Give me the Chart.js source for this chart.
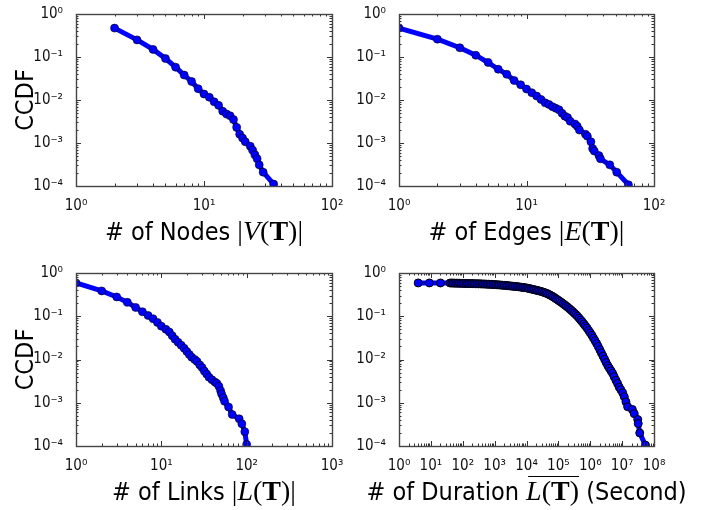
<!DOCTYPE html>
<html><head><meta charset="utf-8">
<script src="https://cdn.jsdelivr.net/npm/chart.js@4/dist/chart.umd.min.js"></script>
<style>
html,body{margin:0;padding:0;background:#fff;}
#wrap{position:relative;width:725px;height:510px;overflow:hidden;background:#fff;}
canvas{position:absolute;left:0;top:0;}
</style></head><body>
<div id="wrap">
<canvas id="c1" width="725" height="510"></canvas>
<canvas id="c2" width="725" height="510"></canvas>
<canvas id="c3" width="725" height="510"></canvas>
<canvas id="c4" width="725" height="510"></canvas>
</div>
<script>
// ---------- data ----------
const nodesX = [2,3,4,5,6,7,8,9,10,11,12,13,14,15,16,17,18,19,20,21,23,24,25,26,27,29,35];
const nodesY = [0.47,0.25,0.15,0.092,0.058,0.038,0.027,0.0183,0.0138,0.0116,0.0091,0.0075,0.0055,0.0047,0.0043,0.0035,0.0023,0.0016,0.0013,0.00107,0.00084,0.00068,0.00053,0.00043,0.00031,0.00021,0.000111];

const edgesX = [1,2,3,4,5,6,7,8,9,10,11,12,13,14,15,16,17,18,19,20,21,22,24,25,26,29,30,32,33,34,37,38,45,51,63];
const edgesY = [0.47,0.26,0.164,0.11,0.0745,0.052,0.0396,0.0284,0.0226,0.018,0.0148,0.0124,0.0103,0.0086,0.0079,0.007,0.0064,0.0059,0.0049,0.0042,0.0039,0.0032,0.00275,0.00244,0.002,0.0016,0.00144,0.00107,0.00074,0.00065,0.00051,0.00043,0.00031,0.00021,0.000107];

const linksX = [1,2,3,4,5,6,7,8,9,10,11.3,12.4,13.4,14.5,15.7,17.1,18.5,19.9,21.3,22.7,24.6,26.2,28.2,30,31.9,34,36.2,39.2,42.5,44.8,47.3,49.5,50.8,53.2,55.1,61.3,67.7,81.7,87.8,95.1,100];
const linksY = [0.59,0.385,0.28,0.21,0.16,0.127,0.104,0.0877,0.072,0.059,0.0498,0.0433,0.0356,0.0293,0.025,0.0213,0.0182,0.0153,0.013,0.0113,0.01,0.009,0.0075,0.0065,0.0054,0.0046,0.0039,0.0034,0.003,0.0028,0.0024,0.0019,0.0016,0.0013,0.00108,0.0008,0.000534,0.000425,0.000326,0.000214,0.000109];

const durX = [4,9,20,40,45,50,56,63,71,79,89,100,112,126,141,158,178,200,224,251,282,316,355,398,447,501,562,631,708,794,891,
  1000,1122,1259,1413,1585,1778,1995,2239,2512,2818,3162,3548,3981,4467,5012,5623,6310,7079,7943,8913,
  10000,11220,12589,14125,15849,17783,19953,22387,25119,28184,31623,35481,39811,44668,50119,56234,63096,70795,79433,89125,
  100000,112202,125893,141254,158489,177828,199526,223872,251189,281838,316228,354813,398107,446684,501187,562341,630957,707946,794328,891251,
  1000000,1122018,1258925,1412538,1584893,1778279,1995262,2238721,2511886,2818383,3162278,3548134,3981072,4466836,5011872,
  5623413,6400000,7200000,8100000,9100000,10400000,11700000,13200000,14900000,20900000,24000000,30900000,32000000,35700000,53700000];
const durY = [0.59,0.59,0.588,0.587,0.586,0.585,0.583,0.582,0.581,0.579,0.578,0.575,0.574,0.573,0.571,0.570,0.569,0.568,0.566,0.565,0.564,0.562,0.561,0.558,0.557,0.555,0.552,0.550,0.547,0.545,0.542,
  0.540,0.537,0.533,0.530,0.526,0.522,0.519,0.514,0.511,0.506,0.501,0.497,0.492,0.489,0.484,0.479,0.473,0.468,0.462,0.457,
  0.452,0.444,0.435,0.427,0.418,0.409,0.401,0.393,0.385,0.376,0.366,0.356,0.345,0.334,0.320,0.305,0.292,0.277,0.261,0.247,
  0.233,0.220,0.208,0.195,0.183,0.171,0.160,0.149,0.138,0.128,0.118,0.109,0.100,0.0904,0.0818,0.0740,0.0662,0.0593,0.0532,0.0469,
  0.0413,0.0363,0.0314,0.0272,0.0234,0.0200,0.0168,0.0142,0.0120,0.0101,0.0085,0.0072,0.0063,0.0055,0.0048,
  0.0040,0.0033,0.0028,0.0023,0.0020,0.0017,0.00137,0.00105,0.00081,0.0007,0.00056,0.00041,0.00033,0.0002,0.000105];

// tick values
const yTicks = [1e-4,1e-3,1e-2,1e-1,1];
const xTicksNodes = [1,10,100];
const xTicksEdges = [1,10,100];
const xTicksLinks = [1,10,100,1000];
const xTicksDur = [1,10,100,1e3,1e4,1e5,1e6,1e7,1e8];

// axis titles (text, style) : s = sans, r = serif, i = serif italic, b = serif bold, o = with overline
const yTitle = 'CCDF';
const titleNodes = [['# of Nodes ','s'],['|','r'],['V','i'],['(','r'],['T','b'],[')','r'],['|','r']];
const titleEdges = [['# of Edges ','s'],['|','r'],['E','i'],['(','r'],['T','b'],[')','r'],['|','r']];
const titleLinks = [['# of Links ','s'],['|','r'],['L','i'],['(','r'],['T','b'],[')','r'],['|','r']];
const titleDur = [['# of Duration ','s'],['L','oi'],['(','or'],['T','ob'],[')','or'],[' (Second)','s']];

// ---------- helpers ----------
function hasFont(name){
  const c=document.createElement('canvas').getContext('2d');
  const t='abcdefghijklmnopqrstuvwxyz';
  c.font='40px monospace'; const w0=c.measureText(t).width;
  c.font='40px "'+name+'", monospace'; return Math.abs(c.measureText(t).width-w0)>0.5;
}
const COND = hasFont('DejaVu Sans Condensed');
const SANS = COND ? '"DejaVu Sans Condensed"' : '"DejaVu Sans", sans-serif';
const SQUEEZE = COND ? 1 : 0.88;
const SERIF = '"Liberation Serif", "DejaVu Serif", serif';

const SUP = {'0':'⁰','1':'¹','2':'²','3':'³','4':'⁴','5':'⁵','6':'⁶','7':'⁷','8':'⁸','9':'⁹','-':'⁻'};
function decadeLabel(v){
  const e = Math.round(Math.log10(v));
  return '10' + String(e).split('').map(c=>SUP[c]).join('');
}

const frame = {
  id:'frame',
  afterDatasetsDraw(chart){
    const {ctx, chartArea:a, scales} = chart;
    const xs = scales.x, ys = scales.y;
    ctx.save();
    ctx.strokeStyle = '#333'; ctx.lineWidth = 1;
    const drawTicks = (sc, horiz) => {
      const lo = Math.round(Math.log10(sc.min)), hi = Math.round(Math.log10(sc.max));
      for (let e = lo; e <= hi; e++) {
        for (let k = 1; k <= 9; k++) {
          const v = k * Math.pow(10, e);
          if (v > sc.max * 1.0001) break;
          const len = (k === 1) ? 5 : 2.5;
          const p = Math.round(sc.getPixelForValue(v)) + 0.5;
          ctx.beginPath();
          if (horiz) {
            ctx.moveTo(p, a.bottom); ctx.lineTo(p, a.bottom - len);
            ctx.moveTo(p, a.top); ctx.lineTo(p, a.top + len);
          } else {
            ctx.moveTo(a.left, p); ctx.lineTo(a.left + len, p);
            ctx.moveTo(a.right, p); ctx.lineTo(a.right - len, p);
          }
          ctx.stroke();
        }
      }
    };
    drawTicks(xs, true); drawTicks(ys, false);
    ctx.lineWidth = 1.4; ctx.strokeStyle = '#444';
    ctx.strokeRect(Math.round(a.left)+0.5, Math.round(a.top)+0.5, Math.round(a.right-a.left), Math.round(a.bottom-a.top));
    ctx.restore();
  },
  afterDraw(chart){
    const o = chart.options.plugins.frame || {};
    const {ctx, chartArea:a} = chart;
    ctx.save();
    ctx.fillStyle = '#000'; ctx.strokeStyle = '#000';
    ctx.textBaseline = 'alphabetic';
    if (o.yTitle) {
      ctx.save();
      ctx.translate(o.yTitleX, (a.top + a.bottom) / 2);
      ctx.rotate(-Math.PI/2);
      ctx.scale(SQUEEZE, 1);
      ctx.font = '25px ' + SANS;
      ctx.textAlign = 'center'; ctx.textBaseline = 'middle';
      ctx.fillText(o.yTitle, 0, 0);
      ctx.restore();
    }
    if (o.xTitle) {
      const fontOf = st => {
        if (st.includes('s')) return '25px ' + SANS;
        if (st.includes('i')) return 'italic 28px ' + SERIF;
        if (st.includes('b')) return 'bold 28px ' + SERIF;
        return '28px ' + SERIF;
      };
      let total = 0;
      const widths = o.xTitle.map(([t, st]) => { ctx.font = fontOf(st); const w = ctx.measureText(t).width; total += w; return w; });
      ctx.save();
      ctx.translate((a.left + a.right) / 2, o.xTitleY);
      ctx.scale(SQUEEZE, 1);
      let x = -total / 2;
      let ovStart = null, ovEnd = null;
      o.xTitle.forEach(([t, st], i) => {
        ctx.font = fontOf(st); ctx.textAlign = 'left';
        ctx.fillText(t, x, 0);
        if (st.includes('o')) { if (ovStart === null) ovStart = x; ovEnd = x + widths[i]; }
        x += widths[i];
      });
      if (ovStart !== null) {
        ctx.lineWidth = 1.2;
        ctx.beginPath(); ctx.moveTo(ovStart + 2, -23.5); ctx.lineTo(ovEnd, -23.5); ctx.stroke();
      }
      ctx.restore();
    }
    ctx.restore();
  }
};

function makeChart(id, box, xs, ys, xTicks, radius, border, extra) {
  const yW = 50, xH = 40;
  const tickFont = {family: SANS, size: 15};
  return new Chart(document.getElementById(id), {
    type: 'line',
    data: { datasets: [{
      data: xs.map((x, i) => ({x: x, y: ys[i]})),
      borderColor: '#0000ff', borderWidth: 5, tension: 0,
      pointRadius: radius, pointBackgroundColor: '#0000ff',
      pointBorderColor: '#000', pointBorderWidth: border,
      clip: 0, fill: false
    }]},
    options: {
      responsive: false, animation: false, events: [],
      layout: { padding: { left: box.l - yW, top: box.t, right: 725 - box.r, bottom: 510 - box.b - xH } },
      plugins: { legend: {display: false}, tooltip: {enabled: false}, frame: extra },
      scales: {
        x: { type: 'logarithmic', min: xTicks[0], max: xTicks[xTicks.length-1],
             afterBuildTicks: s => { s.ticks = xTicks.map(v => ({value: v})); },
             afterFit: s => { s.height = xH; },
             grid: {display: false}, border: {display: false},
             ticks: { autoSkip: false, maxRotation: 0, minRotation: 0, padding: 3, font: tickFont, color: '#111', callback: v => decadeLabel(v) } },
        y: { type: 'logarithmic', min: yTicks[0], max: yTicks[yTicks.length-1],
             afterBuildTicks: s => { s.ticks = yTicks.map(v => ({value: v})); },
             afterFit: s => { s.width = yW; },
             grid: {display: false}, border: {display: false},
             ticks: { autoSkip: false, padding: 5, font: tickFont, color: '#111', callback: v => decadeLabel(v) } }
      }
    },
    plugins: [frame]
  });
}

makeChart('c1', {l:76, r:332, t:11, b:186}, nodesX, nodesY, xTicksNodes, 4, 0.6, {yTitle: yTitle, yTitleX: 26, xTitle: titleNodes, xTitleY: 240});
makeChart('c2', {l:399, r:654, t:11, b:186}, edgesX, edgesY, xTicksEdges, 4, 0.6, {xTitle: titleEdges, xTitleY: 240});
makeChart('c3', {l:76, r:332, t:273, b:446}, linksX, linksY, xTicksLinks, 4, 0.6, {yTitle: yTitle, yTitleX: 26, xTitle: titleLinks, xTitleY: 500});
makeChart('c4', {l:399, r:654, t:273, b:446}, durX, durY, xTicksDur, 4, 1, {xTitle: titleDur, xTitleY: 500});
</script>
</body></html>
